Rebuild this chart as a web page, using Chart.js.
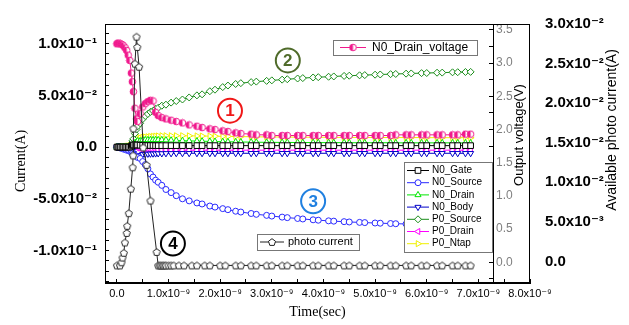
<!DOCTYPE html>
<html><head><meta charset="utf-8">
<script src="https://cdn.jsdelivr.net/npm/chart.js@4.4.1/dist/chart.umd.min.js"></script>
<style>html,body{margin:0;padding:0;background:#fff;overflow:hidden}</style>
</head><body>
<canvas id="c" width="629" height="325"></canvas>
<script>
// ---------------- data (time in ns) ----------------
const timeNs = [0,0.02,0.04,0.07,0.1, 0.13,0.16,0.19,0.22,0.25, 0.28,0.3,0.32,0.35,0.38, 0.4,0.45,0.5,0.55,0.6,
  0.65,0.7,0.75,0.8,0.87, 0.95,1.05,1.15,1.27,1.4, 1.55,1.65,1.8,1.9,2.05, 2.15,2.3,2.4,2.6,2.7,
  2.9,3.0,3.2,3.3,3.5, 3.6,3.8,3.9,4.1,4.2, 4.4,4.5,4.7,4.8,5.0, 5.1,5.3,5.4,5.6,5.7,
  5.9,6.0,6.2,6.3,6.5, 6.6,6.75,6.85];

const n0DrainVoltageV = [3.29,3.30,3.30,3.29,3.28, 3.26,3.23,3.19,3.12,3.04, 2.85,2.72,2.57,2.32,2.16, 2.12,2.24,2.34,2.39,2.42,
  2.44,2.43,2.26,2.21,2.18, 2.16,2.14,2.12,2.10,2.07, 2.05,2.03,2.01,2.00,1.98, 1.97,1.95,1.94,1.93,1.92,
  1.92,1.91,1.91,1.91,1.91, 1.91,1.91,1.91,1.91,1.91, 1.91,1.91,1.91,1.91,1.91, 1.91,1.91,1.92,1.92,1.92,
  1.92,1.92,1.92,1.92,1.92, 1.92,1.93,1.93];

const n0GateA = [0,0,0,0,0, 0,0,0,0,0, 0.001,0.002,0.002,0.002,0.002, 0.002,0.0018,0.0017,0.0016,0.0015,
  0.0015,0.0015,0.0014,0.0014,0.0014, 0.0014,0.0014,0.0014,0.0014,0.0014, 0.0014,0.0014,0.0014,0.0014,0.0014, 0.0014,0.0014,0.0014,0.0014,0.0014,
  0.0014,0.0014,0.0014,0.0014,0.0014, 0.0014,0.0014,0.0014,0.0014,0.0014, 0.0014,0.0014,0.0014,0.0014,0.0014, 0.0014,0.0014,0.0014,0.0014,0.0014,
  0.0014,0.0014,0.0014,0.0014,0.0014, 0.0014,0.0014,0.0014];

const n0SourceA = [0,0,0,-0.001,-0.001, -0.002,-0.002,-0.003,-0.003,-0.004, -0.005,-0.006,-0.007,-0.008,-0.009, -0.010,-0.011,-0.014,-0.017,-0.021,
  -0.026,-0.029,-0.032,-0.034,-0.037, -0.041,-0.044,-0.047,-0.050,-0.052, -0.054,-0.055,-0.057,-0.058,-0.0595, -0.0605,-0.062,-0.0628,-0.0642,-0.065,
  -0.066,-0.0667,-0.0677,-0.0682,-0.069, -0.0695,-0.0703,-0.0707,-0.0713,-0.0716, -0.0721,-0.0724,-0.0728,-0.073,-0.0734, -0.0736,-0.0739,-0.0741,-0.0743,-0.0745,
  -0.0747,-0.0748,-0.075,-0.0751,-0.0753, -0.0754,-0.0755,-0.0756];

const n0DrainA = [0,0,0,0,0, 0,0,0,0,0, 0.001,0.002,0.003,0.004,0.005, 0.006,0.006,0.007,0.007,0.007,
  0.007,0.007,0.007,0.007,0.007, 0.0068,0.0066,0.0064,0.0062,0.006, 0.0058,0.0057,0.0055,0.0054,0.0052, 0.0051,0.005,0.0049,0.0048,0.0047,
  0.0046,0.0046,0.0045,0.0045,0.0044, 0.0044,0.0044,0.0043,0.0043,0.0043, 0.0043,0.0042,0.0042,0.0042,0.0042, 0.0042,0.0042,0.0041,0.0041,0.0041,
  0.0041,0.0041,0.0041,0.0041,0.0041, 0.004,0.004,0.004];

const n0BodyA = [0,0,0,0,0, 0,0,0,0,0, -0.002,-0.004,-0.006,-0.008,-0.009, -0.009,-0.008,-0.007,-0.0068,-0.0066,
  -0.0065,-0.0064,-0.0063,-0.0062,-0.0062, -0.0061,-0.0061,-0.006,-0.006,-0.006, -0.006,-0.006,-0.006,-0.006,-0.006, -0.006,-0.006,-0.006,-0.006,-0.006,
  -0.006,-0.006,-0.006,-0.006,-0.006, -0.006,-0.006,-0.006,-0.006,-0.006, -0.006,-0.006,-0.006,-0.006,-0.006, -0.006,-0.006,-0.006,-0.006,-0.006,
  -0.006,-0.006,-0.006,-0.006,-0.006, -0.006,-0.006,-0.006];

const p0SourceA = [0,0,0,0,0, 0,0,0,0,0.001, 0.003,0.006,0.008,0.013,0.017, 0.020,0.023,0.027,0.030,0.032,
  0.034,0.035,0.037,0.038,0.040, 0.041,0.043,0.0445,0.046,0.048, 0.050,0.051,0.054,0.0555,0.058, 0.0595,0.061,0.0618,0.0628,0.0633,
  0.064,0.0645,0.0652,0.0656,0.0663, 0.0667,0.0673,0.0676,0.068,0.0683, 0.0688,0.069,0.0694,0.0696,0.07, 0.0702,0.0705,0.0707,0.071,0.0712,
  0.0715,0.0716,0.0719,0.072,0.0723, 0.0724,0.0726,0.0727];

const p0DrainA = [0,0,0,0,0, 0,0,0,0,0, 0.001,0.002,0.002,0.001,0, -0.001,-0.0015,-0.002,-0.002,-0.0022,
  -0.0024,-0.0025,-0.0026,-0.0027,-0.0028, -0.0028,-0.0029,-0.0029,-0.003,-0.003, -0.003,-0.003,-0.003,-0.003,-0.003, -0.003,-0.003,-0.003,-0.003,-0.003,
  -0.003,-0.003,-0.003,-0.003,-0.003, -0.003,-0.003,-0.003,-0.003,-0.003, -0.003,-0.003,-0.003,-0.003,-0.003, -0.003,-0.003,-0.003,-0.003,-0.003,
  -0.003,-0.003,-0.003,-0.003,-0.003, -0.003,-0.003,-0.003];

const p0NtapA = [0,0,0,0,0, 0.0005,0.0005,0.001,0.001,0.0015, 0.002,0.003,0.005,0.007,0.008, 0.0085,0.009,0.0095,0.0098,0.010,
  0.0103,0.0105,0.0107,0.0108,0.011, 0.011,0.011,0.011,0.011,0.0109, 0.0108,0.0107,0.0106,0.0105,0.0104, 0.0103,0.0102,0.0101,0.010,0.0099,
  0.0098,0.0098,0.0097,0.0097,0.0096, 0.0096,0.0095,0.0095,0.0095,0.0094, 0.0094,0.0094,0.0093,0.0093,0.0093, 0.0093,0.0092,0.0092,0.0092,0.0092,
  0.0092,0.0091,0.0091,0.0091,0.0091, 0.0091,0.0091,0.009];

const photoTimeNs = [0,0.06,0.09,0.11,0.135, 0.155,0.19,0.2,0.23,0.27, 0.305,0.315,0.32,0.35,0.38, 0.395,0.43,0.51,0.575,0.65,
  0.77,0.8,0.83,0.86,0.89, 0.92,0.95,1.0,1.05,1.1, 1.2,1.3,1.45,1.55,1.7, 1.8,2.0,2.1,2.3,2.4,
  2.6,2.7,2.9,3.0,3.2, 3.3,3.5,3.6,3.8,3.9, 4.1,4.2,4.4,4.5,4.7, 4.8,5.0,5.1,5.3,5.4,
  5.6,5.7,5.9,6.0,6.2, 6.3,6.5,6.6,6.75,6.85];
const photoCurrentA = [-0.0005,-0.0005,-0.0001,0.0005,0.0011, 0.0024,0.0036,0.0045,0.0061,0.0092, 0.0119,0.0134,0.0168,0.025,0.0284, 0.0271,0.0246,0.0144,0.0122,0.0077,
  0.0012,-0.0005,-0.0005,-0.0005,-0.0005, -0.0005,-0.0005,-0.0005,-0.0005,-0.0005, -0.0005,-0.0005,-0.0005,-0.0005,-0.0005, -0.0005,-0.0005,-0.0005,-0.0005,-0.0005,
  -0.0005,-0.0005,-0.0005,-0.0005,-0.0005, -0.0005,-0.0005,-0.0005,-0.0005,-0.0005, -0.0005,-0.0005,-0.0005,-0.0005,-0.0005, -0.0005,-0.0005,-0.0005,-0.0005,-0.0005,
  -0.0005,-0.0005,-0.0005,-0.0005,-0.0005, -0.0005,-0.0005,-0.0005,-0.0005,-0.0005];

// ---------------- ticks ----------------
const xMajor = [0,1,2,3,4,5,6,7,8];
const xMajorLabels = ['0.0','1.0x10⁻⁹','2.0x10⁻⁹','3.0x10⁻⁹','4.0x10⁻⁹','5.0x10⁻⁹','6.0x10⁻⁹','7.0x10⁻⁹','8.0x10⁻⁹'];
const xMinor = [0.5,1.5,2.5,3.5,4.5,5.5,6.5,7.5];
const curMajor = [-0.1,-0.05,0,0.05,0.1];
const curMajorLabels = ['-1.0x10⁻¹','-5.0x10⁻²','0.0','5.0x10⁻²','1.0x10⁻¹'];
const curMinor = [-0.13,-0.12,-0.11,-0.09,-0.08,-0.07,-0.06,-0.04,-0.03,-0.02,-0.01,0.01,0.02,0.03,0.04,0.06,0.07,0.08,0.09,0.11];
const voltMajor = [0,0.5,1,1.5,2,2.5,3,3.5];
const voltMajorLabels = ['0.0','0.5','1.0','1.5','2.0','2.5','3.0','3.5'];
const voltMinor = [-0.25,0.25,0.75,1.25,1.75,2.25,2.75,3.25];
const pcMajor = [0,0.005,0.01,0.015,0.02,0.025,0.03];
const pcMajorLabels = ['0.0','5.0x10⁻³','1.0x10⁻²','1.5x10⁻²','2.0x10⁻²','2.5x10⁻²','3.0x10⁻²'];

// ---------------- helpers ----------------
const SANS = "'Liberation Sans', Arial, 'DejaVu Sans', sans-serif";
const SERIF = "'Liberation Serif', 'Times New Roman', serif";
Chart.defaults.font.family = SANS;
function zip(xs, ys){ return xs.map((x,i)=>({x:x, y:ys[i]})); }
function labelFor(v, vals, labels){ for (let i=0;i<vals.length;i++) if (Math.abs(vals[i]-v) < 1e-9) return labels[i]; return ''; }
function setTicks(major, minor){ return function(s){ s.ticks = major.concat(minor).sort((a,b)=>a-b).map(v=>({value:v})); }; }

function makeHalfCircle(color){
  const c=document.createElement('canvas'); c.width=9; c.height=9; const g=c.getContext('2d');
  g.beginPath(); g.arc(4.5,4.5,3.3,0,Math.PI*2); g.fillStyle='#fff'; g.fill();
  g.beginPath(); g.moveTo(4.5,1.2); g.arc(4.5,4.5,3.3,-Math.PI/2,Math.PI/2,true); g.closePath(); g.fillStyle=color; g.fill();
  g.beginPath(); g.arc(4.5,4.5,3.3,0,Math.PI*2); g.strokeStyle=color; g.lineWidth=1; g.stroke(); return c;
}
function makePentagon(color){
  const c=document.createElement('canvas'); c.width=10; c.height=10; const g=c.getContext('2d');
  g.beginPath();
  for(let i=0;i<5;i++){ const a=-Math.PI/2+i*2*Math.PI/5; const px=5+3.7*Math.cos(a), py=5.4+3.7*Math.sin(a); if(i) g.lineTo(px,py); else g.moveTo(px,py); }
  g.closePath(); g.fillStyle='#fff'; g.fill(); g.strokeStyle=color; g.lineWidth=1; g.stroke(); return c;
}

function ds(label, xs, ys, axis, color, style, radius, rot){
  return {label:label, data:zip(xs,ys), yAxisID:axis, borderColor:color, backgroundColor:color,
    borderWidth:1, pointStyle:style, pointRadius:radius, pointRotation:rot||0, pointBorderColor:color,
    pointBackgroundColor:'#fff', pointBorderWidth:1, tension:0, showLine:true, fill:false};
}
const dsPhoto = ds('photo current', photoTimeNs, photoCurrentA, 'yP', '#222', makePentagon('#222'), 3.5);
const dsVolt = ds('N0_Drain_voltage', timeNs, n0DrainVoltageV, 'yV', '#f0188c', makeHalfCircle('#f0188c'), 3.5);
const dsGate = ds('N0_Gate', timeNs, n0GateA, 'yCur', '#000000', 'rect', 4);
const dsSrc = ds('N0_Source', timeNs, n0SourceA, 'yCur', '#2a2aff', 'circle', 3);
const dsDrn = ds('N0_Drain', timeNs, n0DrainA, 'yCur', '#00e600', 'triangle', 3.5);
const dsBody = ds('N0_Body', timeNs, n0BodyA, 'yCur', '#0000c8', 'triangle', 3.5, 180);
const dsPSrc = ds('P0_Source', timeNs, p0SourceA, 'yCur', '#1a8c1a', 'rectRot', 3.5);
const dsPDrn = ds('P0_Drain', timeNs, p0DrainA, 'yCur', '#ff00ff', 'triangle', 3.5, 270);
const dsPNtap = ds('P0_Ntap', timeNs, p0NtapA, 'yCur', '#f0f000', 'triangle', 3.5, 90);

function drawMarker(ctx, d, x, y){
  ctx.save();
  ctx.strokeStyle=d.pointBorderColor; ctx.fillStyle=d.pointBackgroundColor; ctx.lineWidth=1;
  Chart.helpers.drawPoint(ctx, {pointStyle:d.pointStyle, rotation:d.pointRotation||0, radius:d.pointRadius, borderWidth:1}, x, y);
  ctx.restore();
}
function legendEntry(ctx, d, x0, x1, y, tx, font){
  ctx.save(); ctx.strokeStyle=d.borderColor; ctx.lineWidth=1;
  ctx.beginPath(); ctx.moveTo(x0,y); ctx.lineTo(x1,y); ctx.stroke(); ctx.restore();
  drawMarker(ctx, d, (x0+x1)/2, y);
  ctx.save(); ctx.fillStyle='#000'; ctx.font=font; ctx.textAlign='left'; ctx.textBaseline='middle'; ctx.fillText(d.label, tx, y); ctx.restore();
}
function box(ctx, x, y, w, h){
  ctx.save(); ctx.fillStyle='#fff'; ctx.fillRect(x,y,w,h); ctx.strokeStyle='#777'; ctx.lineWidth=1; ctx.strokeRect(x+0.5,y+0.5,w,h); ctx.restore();
}
function vText(ctx, text, x, y, font){
  ctx.save(); ctx.translate(x,y); ctx.rotate(-Math.PI/2); ctx.font=font; ctx.fillStyle='#000';
  ctx.textAlign='center'; ctx.textBaseline='middle'; ctx.fillText(text,0,0); ctx.restore();
}

const callouts = [
  {text:'1', t:2.19, a:0.0352, color:'#f01818'},
  {text:'2', t:3.31, a:0.0838, color:'#4f6b2a'},
  {text:'3', t:3.80, a:-0.0524, color:'#2080e0'},
  {text:'4', t:1.085, a:-0.0933, color:'#000000'}
];

const layoutPlugin = {
  id:'moveVolt',
  afterLayout(chart){
    const s=chart.scales.yV, ca=chart.chartArea;
    s.left = ca.right - 37; s.right = ca.right; s.width = 37;
  }
};
const decorPlugin = {
  id:'decor',
  afterDraw(chart){
    const ctx=chart.ctx, ca=chart.chartArea, xs=chart.scales.x, yc=chart.scales.yCur;
    // frame
    ctx.save(); ctx.strokeStyle='#000'; ctx.lineWidth=1;
    ctx.strokeRect(Math.round(ca.left)+0.5, Math.round(ca.top)+0.5, Math.round(ca.right-ca.left)-1, Math.round(ca.bottom-ca.top)-1);
    ctx.restore();
    // callouts
    callouts.forEach(c=>{
      const x=xs.getPixelForValue(c.t), y=yc.getPixelForValue(c.a);
      ctx.save(); ctx.strokeStyle=c.color; ctx.lineWidth=2; ctx.beginPath(); ctx.arc(x,y,12,0,Math.PI*2); ctx.stroke();
      ctx.fillStyle=c.color; ctx.font='bold 17px '+SANS; ctx.textAlign='center'; ctx.textBaseline='middle'; ctx.fillText(c.text,x,y+1); ctx.restore();
    });
    // legends
    box(ctx, 333, 40, 144, 15);
    legendEntry(ctx, dsVolt, 340, 366, 47.5, 372, '12px '+SANS);
    box(ctx, 404, 162, 88, 90);
    [dsGate,dsSrc,dsDrn,dsBody,dsPSrc,dsPDrn,dsPNtap].forEach((d,i)=>legendEntry(ctx, d, 407, 429, 170.5+i*12.2, 432, '10px '+SANS));
    box(ctx, 257, 234, 102, 16);
    legendEntry(ctx, dsPhoto, 260, 284, 242, 288, '11px '+SANS);
    // vertical axis titles
    vText(ctx, 'Current(A)', 21, 161, '14px '+SERIF);
    vText(ctx, 'Output voltage(V)', 519, 135, '13px '+SANS);
    vText(ctx, 'Available photo current(A)', 612, 130, '14px '+SANS);
  }
};

new Chart(document.getElementById('c'), {
  type:'line',
  data:{datasets:[dsPhoto, dsVolt, dsGate, dsSrc, dsDrn, dsBody, dsPSrc, dsPDrn, dsPNtap]},
  options:{
    responsive:false, animation:false, devicePixelRatio:1, events:[],
    layout:{padding:{top:20,left:0,right:0,bottom:0}},
    plugins:{legend:{display:false}, tooltip:{enabled:false}},
    scales:{
      x:{type:'linear', position:'bottom', min:-0.23, max:8.0,
        afterFit(s){ s.height=42; }, afterBuildTicks:setTicks(xMajor,xMinor),
        ticks:{autoSkip:false, maxRotation:0, minRotation:0, padding:8, color:'#000', font:{size:11},
          callback:(v)=>labelFor(v,xMajor,xMajorLabels)},
        grid:{drawOnChartArea:false, tickLength:-4, tickColor:'#000'},
        border:{display:true, color:'#000', width:1},
        title:{display:true, text:'Time(sec)', color:'#000', font:{family:SERIF, size:14}, padding:{top:0,bottom:4}}},
      yCur:{type:'linear', position:'left', min:-0.1314, max:0.119,
        afterFit(s){ s.width=105; }, afterBuildTicks:setTicks(curMajor,curMinor),
        ticks:{autoSkip:false, padding:12, color:'#000', font:{size:15, weight:'bold'},
          callback:(v)=>labelFor(v,curMajor,curMajorLabels)},
        grid:{drawOnChartArea:false, tickLength:-4, tickColor:'#000'},
        border:{display:true, color:'#000', width:1}},
      yV:{type:'linear', position:'right', weight:0, min:-0.311, max:3.589,
        afterFit(s){ s.width=0; }, afterBuildTicks:setTicks(voltMajor,voltMinor),
        ticks:{autoSkip:false, padding:7, color:'#808080', font:{size:12},
          callback:(v)=>labelFor(v,voltMajor,voltMajorLabels)},
        grid:{drawOnChartArea:false, tickLength:-4, tickColor:'#000'},
        border:{display:true, color:'#000', width:1}},
      yP:{type:'linear', position:'right', weight:1, min:-0.00272, max:0.03,
        afterFit(s){ s.width=99; }, afterBuildTicks:setTicks(pcMajor,[]),
        ticks:{autoSkip:false, padding:15, color:'#000', font:{size:15, weight:'bold'},
          callback:(v)=>labelFor(v,pcMajor,pcMajorLabels)},
        grid:{drawOnChartArea:false, drawTicks:false},
        border:{display:false}}
    }
  },
  plugins:[layoutPlugin, decorPlugin]
});
</script>
</body></html>
